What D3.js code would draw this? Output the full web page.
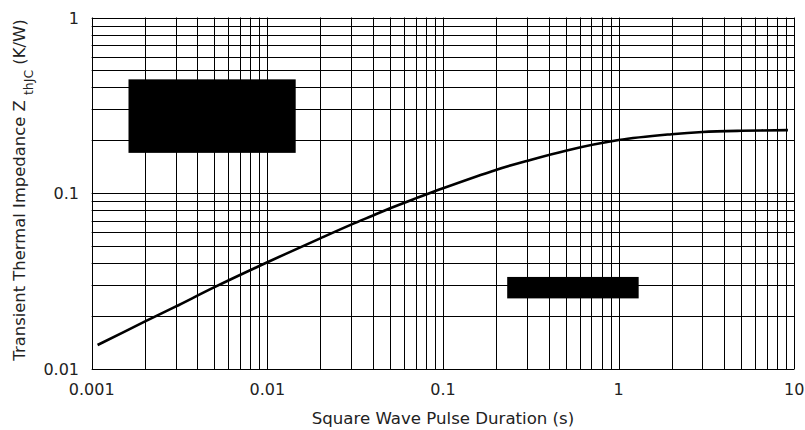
<!DOCTYPE html>
<html><head><meta charset="utf-8">
<script src="https://cdn.jsdelivr.net/npm/d3@7/dist/d3.min.js"></script>
<style>body{margin:0;background:#fff}svg{display:block}text{font-family:"DejaVu Sans",sans-serif;fill:#222}</style>
</head><body><svg id="c" width="805" height="430"></svg>
<script>
const pulseDuration = [0.00108, 0.002, 0.003, 0.005, 0.01, 0.02, 0.03, 0.04, 0.05, 0.07, 0.1, 0.2, 0.3, 0.5, 1, 2, 3, 5, 9.2];
const impedance     = [0.01374, 0.01865, 0.0227, 0.0293, 0.0406, 0.0555, 0.0664, 0.0749, 0.0823, 0.0937, 0.107, 0.136, 0.153, 0.175, 0.201, 0.217, 0.2235, 0.227, 0.229];
const xTicks = [0.001, 0.01, 0.1, 1, 10];
const xTickLabels = ["0.001", "0.01", "0.1", "1", "10"];
const yTicks = [0.01, 0.1, 1];
const yTickLabels = ["0.01", "0.1", "1"];
const redactBoxes = [ {x0:0.00162, x1:0.0145, y0:0.445, y1:0.170}, {x0:0.232, x1:1.30, y0:0.0335, y1:0.0253} ];

const svg = d3.select("#c");
const L = 91.7, R = 794.3, T = 17.5, B = 369.3;
const x = d3.scaleLog().domain([0.001, 10]).range([L, R]);
const y = d3.scaleLog().domain([0.01, 1]).range([B, T]);

const xg = [], yg = [];
for (let d = 0.001; d < 10 - 1e-9; d *= 10) for (let k = 1; k <= 9; k++) xg.push(+(d * k).toPrecision(3));
xg.push(10);
for (let d = 0.01; d < 1 - 1e-9; d *= 10) for (let k = 1; k <= 9; k++) yg.push(+(d * k).toPrecision(3));
yg.push(1);

const g = svg.append("g");
g.selectAll(".vx").data(xg).join("line")
  .attr("x1", d => Math.round(x(d)) + 0.5).attr("x2", d => Math.round(x(d)) + 0.5)
  .attr("y1", T).attr("y2", B).attr("stroke", "#000").attr("stroke-width", 1);
g.selectAll(".hy").data(yg).join("line")
  .attr("y1", d => Math.round(y(d)) + 0.5).attr("y2", d => Math.round(y(d)) + 0.5)
  .attr("x1", L).attr("x2", R).attr("stroke", "#000").attr("stroke-width", 1);

// curve
const line = d3.line().x(d => x(d[0])).y(d => y(d[1])).curve(d3.curveCatmullRom.alpha(0.5));
svg.append("path").datum(d3.zip(pulseDuration, impedance))
  .attr("d", line).attr("fill", "none").attr("stroke", "#000").attr("stroke-width", 2.6);

// redaction boxes
svg.selectAll(".box").data(redactBoxes).join("rect")
  .attr("x", d => x(d.x0)).attr("y", d => y(d.y0))
  .attr("width", d => x(d.x1) - x(d.x0)).attr("height", d => y(d.y1) - y(d.y0))
  .attr("fill", "#000");

// tick labels
svg.selectAll(".xl").data(xTicks).join("text")
  .attr("x", d => x(d)).attr("y", 395).attr("text-anchor", "middle")
  .attr("font-size", 16).text((d, i) => xTickLabels[i]);
svg.selectAll(".yl").data(yTicks).join("text")
  .attr("x", 79).attr("y", d => y(d) + 6).attr("text-anchor", "end")
  .attr("font-size", 16).text((d, i) => yTickLabels[i]);

svg.append("text").attr("x", (L + R) / 2).attr("y", 424).attr("text-anchor", "middle")
  .attr("font-size", 16.6).text("Square Wave Pulse Duration (s)");

const yt = svg.append("text").attr("transform", `translate(25,190) rotate(-90)`)
  .attr("text-anchor", "middle").attr("font-size", 16.4);
yt.append("tspan").text("Transient Thermal Impedance Z ");
yt.append("tspan").attr("dy", 8).attr("font-size", 12.5).text("thJC");
yt.append("tspan").attr("dy", -8).text(" (K/W)");
</script></body></html>
